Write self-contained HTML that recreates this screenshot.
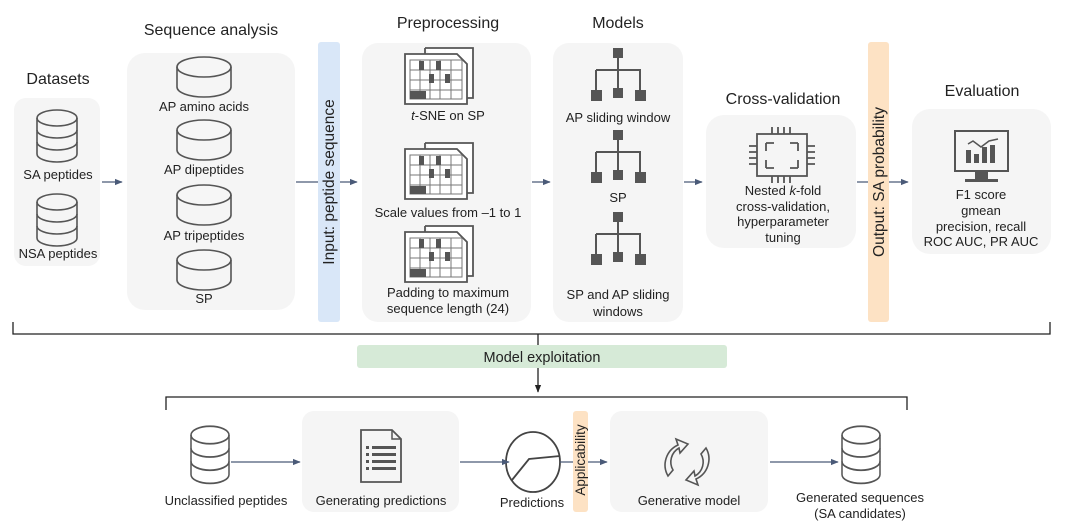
<!DOCTYPE html>
<html><head><meta charset="utf-8"><style>
html,body{margin:0;padding:0;background:#fff}
svg{display:block}
text{font-family:"Liberation Sans",sans-serif;fill:#222}
</style></head><body>
<svg width="1080" height="528" viewBox="0 0 1080 528" xmlns="http://www.w3.org/2000/svg">
<defs>
<marker id="ar" viewBox="0 0 10 10" refX="9" refY="5" markerWidth="6" markerHeight="6" orient="auto"><path d="M0,1 L10,5 L0,9 z" fill="#4a5a78"/></marker>
<marker id="ab" viewBox="0 0 10 10" refX="9" refY="5" markerWidth="6" markerHeight="6" orient="auto"><path d="M0,1 L10,5 L0,9 z" fill="#222"/></marker>
<g id="disc" fill="none" stroke="#555" stroke-width="1.6">
<ellipse cx="0" cy="0" rx="27" ry="10" fill="#f6f6f6"/>
<path d="M-27,0 V20 A27,10 0 0 0 27,20 V0"/>
</g>
<g id="stack" fill="none" stroke="#555" stroke-width="1.6">
<ellipse cx="0" cy="0" rx="20" ry="8"/>
<path d="M-20,0 V36 A20,8 0 0 0 20,36 V0"/>
<path d="M-20,12 A20,8 0 0 0 20,12"/>
<path d="M-20,24 A20,8 0 0 0 20,24"/>
</g>
<g id="grid">
<path d="M20,0 H68 V50 H58" fill="#fff" stroke="#555" stroke-width="1.8"/>
<path d="M20,0 V6" stroke="#555" stroke-width="1.8"/>
<path d="M0,6 H52 L62,16 V56 H0 Z" fill="#fff" stroke="#555" stroke-width="1.8"/>
<g stroke="#777" stroke-width="1">
<path d="M5,12 H57 V51 H5 Z" fill="none"/>
<path d="M5,22 H57 M5,32 H57 M5,42 H57 M15,12 V51 M25,12 V51 M35,12 V51 M46,12 V51"/>
</g>
<rect x="14" y="13" width="5" height="9" fill="#555"/><rect x="31" y="13" width="5" height="9" fill="#555"/>
<rect x="24" y="26" width="5" height="9" fill="#555"/><rect x="40" y="26" width="5" height="9" fill="#555"/>
<rect x="5" y="43" width="16" height="8" fill="#555"/>
</g>
<g id="tree" fill="#555">
<rect x="-5" y="0" width="10" height="10"/>
<path d="M0,10 V42 M-22,22 H22 V42 M-22,22 V42" stroke="#555" stroke-width="2" fill="none"/>
<rect x="-27" y="42" width="11" height="11"/><rect x="-5" y="40" width="10" height="10"/><rect x="17" y="42" width="11" height="11"/>
</g>
</defs>

<rect x="14" y="98" width="86" height="168" rx="12" fill="#f5f5f5"/>
<rect x="127" y="53" width="168" height="257" rx="18" fill="#f5f5f5"/>
<rect x="318" y="42" width="22" height="280" rx="3" fill="#d9e7f8"/>
<rect x="362" y="43" width="169" height="279" rx="16" fill="#f5f5f5"/>
<rect x="553" y="43" width="130" height="279" rx="16" fill="#f5f5f5"/>
<rect x="706" y="115" width="150" height="133" rx="18" fill="#f5f5f5"/>
<rect x="868" y="42" width="21" height="280" rx="3" fill="#fde2c4"/>
<rect x="912" y="109" width="139" height="145" rx="18" fill="#f5f5f5"/>

<g font-size="16" text-anchor="middle">
<text x="58" y="84">Datasets</text>
<text x="211" y="35">Sequence analysis</text>
<text x="448" y="28">Preprocessing</text>
<text x="618" y="28">Models</text>
<text x="783" y="104">Cross-validation</text>
<text x="982" y="96">Evaluation</text>
</g>

<use href="#stack" x="57" y="118"/>
<use href="#stack" x="57" y="202"/>
<g font-size="13" text-anchor="middle">
<text x="58" y="179">SA peptides</text>
<text x="58" y="258">NSA peptides</text>
</g>

<use href="#disc" x="204" y="67"/>
<use href="#disc" x="204" y="130"/>
<use href="#disc" x="204" y="195"/>
<use href="#disc" x="204" y="260"/>
<g font-size="13" text-anchor="middle">
<text x="204" y="111">AP amino acids</text>
<text x="204" y="174">AP dipeptides</text>
<text x="204" y="240">AP tripeptides</text>
<text x="204" y="303">SP</text>
</g>

<text font-size="15.5" text-anchor="middle" transform="translate(334,182) rotate(-90)">Input: peptide sequence</text>
<text font-size="15.5" text-anchor="middle" transform="translate(884,182) rotate(-90)">Output: SA probability</text>

<use href="#grid" x="405" y="48"/>
<use href="#grid" x="405" y="143"/>
<use href="#grid" x="405" y="226"/>
<g font-size="13" text-anchor="middle">
<text x="448" y="120"><tspan font-style="italic">t</tspan>-SNE on SP</text>
<text x="448" y="217">Scale values from –1 to 1</text>
<text x="448" y="297">Padding to maximum</text>
<text x="448" y="313">sequence length (24)</text>
</g>

<use href="#tree" x="618" y="48"/>
<use href="#tree" x="618" y="130"/>
<use href="#tree" x="618" y="212"/>
<g font-size="13" text-anchor="middle">
<text x="618" y="122">AP sliding window</text>
<text x="618" y="202">SP</text>
<text x="618" y="299">SP and AP sliding</text>
<text x="618" y="316">windows</text>
</g>

<g stroke="#555" stroke-width="1.8" fill="none">
<rect x="757" y="134" width="50" height="42"/>
<path d="M766,143 h8 M766,143 v8 M798,143 h-8 M798,143 v8 M766,168 h8 M766,168 v-8 M798,168 h-8 M798,168 v-8"/>
<path d="M772,127 v7 M778,127 v7 M784,127 v7 M790,127 v7 M772,176 v7 M778,176 v7 M784,176 v7 M790,176 v7"/>
<path d="M749,146 h8 M749,152 h8 M749,158 h8 M749,164 h8 M807,146 h8 M807,152 h8 M807,158 h8 M807,164 h8"/>
</g>
<g font-size="13" text-anchor="middle">
<text x="783" y="195">Nested <tspan font-style="italic">k</tspan>-fold</text>
<text x="783" y="211">cross-validation,</text>
<text x="783" y="226">hyperparameter</text>
<text x="783" y="242">tuning</text>
</g>

<g>
<rect x="955" y="131" width="53" height="40" fill="none" stroke="#555" stroke-width="2"/>
<path d="M975,171 h13 v8 h-13z M965,179 h33 v3 h-33z" fill="#555"/>
<rect x="966" y="150" width="5" height="13" fill="#555"/><rect x="974" y="154" width="5" height="9" fill="#555"/>
<rect x="982" y="147" width="5" height="16" fill="#555"/><rect x="990" y="145" width="5" height="18" fill="#555"/>
<path d="M968,144 L973,141 L981,147 L989,141 L998,139" fill="none" stroke="#555" stroke-width="1.5"/>
</g>
<g font-size="13" text-anchor="middle">
<text x="981" y="199">F1 score</text>
<text x="981" y="215">gmean</text>
<text x="981" y="231">precision, recall</text>
<text x="981" y="246">ROC AUC, PR AUC</text>
</g>

<g stroke="#4a5a78" stroke-width="1.3" fill="none">
<path d="M102,182 H122" marker-end="url(#ar)"/>
<path d="M296,182 H318 M340,182 H357" marker-end="url(#ar)"/>
<path d="M532,182 H550" marker-end="url(#ar)"/>
<path d="M684,182 H702" marker-end="url(#ar)"/>
<path d="M857,182 H868 M889,182 H908" marker-end="url(#ar)"/>
</g>

<g stroke="#222" stroke-width="1.3" fill="none">
<path d="M13,322 V334 H1050 V322"/>
<path d="M538,334 V345"/>
<path d="M538,368 V392" marker-end="url(#ab)"/>
<path d="M166,410 V397 H907 V410"/>
</g>
<rect x="357" y="345" width="370" height="23" rx="3" fill="#d6ead7"/>
<text x="542" y="362" font-size="14.5" text-anchor="middle">Model exploitation</text>

<rect x="302" y="411" width="157" height="101" rx="12" fill="#f5f5f5"/>
<rect x="573" y="411" width="15" height="101" rx="3" fill="#fde2c4"/>
<rect x="610" y="411" width="158" height="101" rx="12" fill="#f5f5f5"/>

<g transform="translate(210,435) scale(0.95,1.1)"><use href="#stack"/></g>
<g transform="translate(861,435) scale(0.95,1.1)"><use href="#stack"/></g>

<g>
<path d="M361,430 H392 L401,439 V482 H361 Z" fill="none" stroke="#555" stroke-width="1.8"/>
<path d="M392,430 V439 H401" fill="none" stroke="#555" stroke-width="1.5"/>
<g fill="#555">
<rect x="366" y="446" width="3" height="3"/><rect x="372" y="446" width="24" height="3"/>
<rect x="366" y="453" width="3" height="3"/><rect x="372" y="453" width="24" height="3"/>
<rect x="366" y="460" width="3" height="3"/><rect x="372" y="460" width="24" height="3"/>
<rect x="366" y="467" width="3" height="3"/><rect x="372" y="467" width="24" height="3"/>
</g>
</g>
<g fill="none" stroke="#444" stroke-width="1.8">
<ellipse cx="533" cy="462" rx="27" ry="30"/>
<path d="M512,480 L529,459 L560,456"/>
</g>
<g fill="none" stroke="#555" stroke-width="1.6">
<path d="M668,476 A22,22 0 0 1 678,445 l-2,-6 l12,5 l-8,9 l-1,-5 A16,16 0 0 0 673,470 Z"/>
<path d="M706,448 A22,22 0 0 1 696,479 l2,6 l-12,-5 l8,-9 l1,5 A16,16 0 0 0 701,454 Z"/>
</g>

<g stroke="#4a5a78" stroke-width="1.3" fill="none">
<path d="M231,462 H300" marker-end="url(#ar)"/>
<path d="M460,462 H509" marker-end="url(#ar)"/>
<path d="M560,462 H573 M588,462 H607" marker-end="url(#ar)"/>
<path d="M770,462 H838" marker-end="url(#ar)"/>
</g>

<g font-size="13" text-anchor="middle">
<text x="226" y="505">Unclassified peptides</text>
<text x="381" y="505">Generating predictions</text>
<text x="532" y="507">Predictions</text>
<text x="689" y="505">Generative model</text>
<text x="860" y="502">Generated sequences</text>
<text x="860" y="518">(SA candidates)</text>
</g>
<text font-size="13.5" text-anchor="middle" transform="translate(585,460) rotate(-90)">Applicability</text>
</svg>
</body></html>
